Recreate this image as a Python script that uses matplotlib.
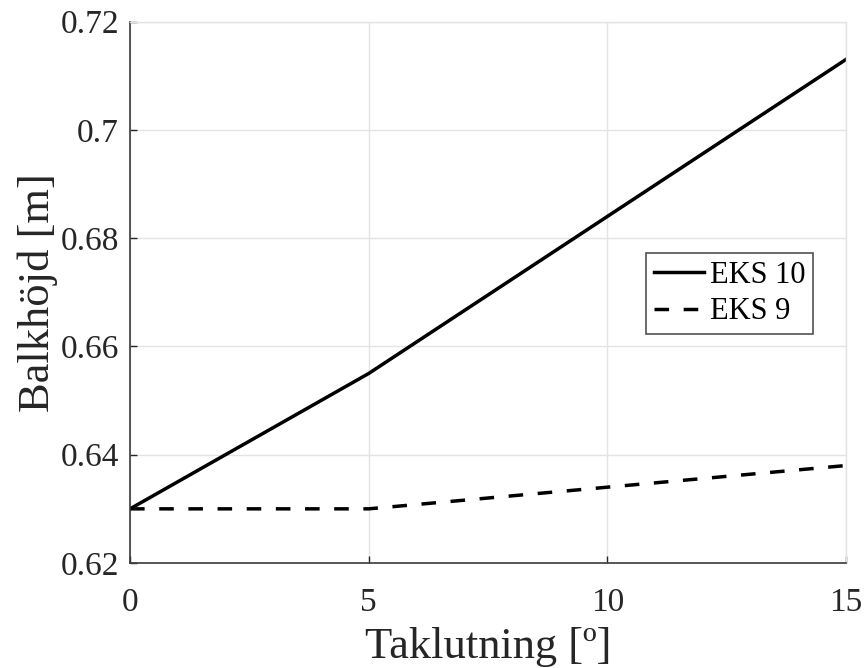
import matplotlib
matplotlib.use("Agg")
import matplotlib.pyplot as plt

plt.rcParams['font.family'] = ['Liberation Serif', 'DejaVu Serif']

# roof slope [deg] and required beam height [m]
slope = [0, 5, 10, 15]
eks10 = [0.630, 0.655, 0.684, 0.713]
eks9 = [0.630, 0.630, 0.634, 0.638]
yticks = [0.62, 0.64, 0.66, 0.68, 0.70, 0.72]
yticklabels = ['0.62', '0.64', '0.66', '0.68', '0.7', '0.72']
xticks = [0, 5, 10, 15]

fig = plt.figure(figsize=(8.68, 6.68), dpi=100)
ax = fig.add_axes([0.1498, 0.1572, 0.8249, 0.8106])

ax.plot(slope, eks10, color='black', lw=2.5, label='EKS 10')
ax.plot(slope, eks9, color='black', lw=2.5, dashes=[4.2, 4.2], label='EKS 9')

ax.set_xlim(0, 15)
ax.set_ylim(0.62, 0.72)
ax.set_xticks(xticks)
ax.set_yticks(yticks)
ax.set_yticklabels(yticklabels)
ax.tick_params(direction='in', labelsize=24, colors='#262626', length=5, width=1, pad=8)
ax.tick_params(axis='x', pad=18)

ax.grid(True, color='#e3e3e3', lw=1)
ax.set_axisbelow(True)
for side in ['left', 'bottom']:
    ax.spines[side].set_color('#3a3a3a')
    ax.spines[side].set_linewidth(1.2)
for side in ['top', 'right']:
    ax.spines[side].set_color('#e3e3e3')
    ax.spines[side].set_linewidth(1)

ax.set_xlabel('Taklutning [º]', fontsize=32, color='#262626', labelpad=6)
ax.set_ylabel('Balkhöjd [m]', fontsize=32, color='#262626', labelpad=2)

leg = ax.legend(loc='upper left', bbox_to_anchor=(0.7207, 0.5725), fontsize=22,
                frameon=True, fancybox=False, edgecolor='#262626', handlelength=1.65,
                borderpad=0.25, labelspacing=0.25, handletextpad=0.2, borderaxespad=0)
leg.get_frame().set_linewidth(1.2)

fig.savefig('out.png', dpi=100)
